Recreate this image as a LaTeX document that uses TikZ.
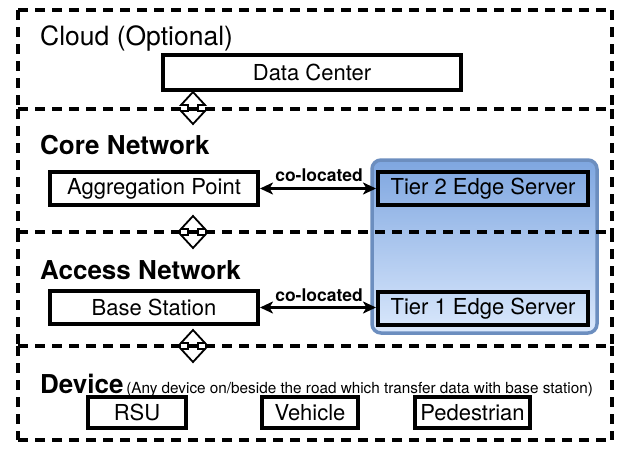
\documentclass[tikz,border=0pt]{standalone}
\usepackage{fontspec}
\setmainfont{TeX Gyre Heros}
\usetikzlibrary{arrows.meta}
\definecolor{tiertop}{HTML}{7EA6E0}
\definecolor{tierbottom}{HTML}{DAE8FC}
\definecolor{tierline}{HTML}{6C8EBF}
\newcommand\setfs[1]{\fontsize{#1}{#1}\selectfont}
\begin{document}
\begin{tikzpicture}[x=1pt,y=-1pt,
  layer/.style={draw=black, line width=3.6pt, dash pattern=on 10pt off 7pt},
  unit/.style={draw=black, line width=4pt, minimum height=33pt, inner sep=0pt, font=\setfs{22}},
  devbox/.style={unit, minimum height=31pt},
  heading/.style={anchor=base west, inner sep=0pt, font=\setfs{26}\bfseries},
  colabel/.style={font=\setfs{17.5}\bfseries, inner sep=0pt},
  link/.style={line width=3.5pt, {Stealth[length=13pt,width=12pt,inset=3.5pt]}-{Stealth[length=13pt,width=12pt,inset=3.5pt]}},
  linkmark/.pic={\draw[line width=1.8pt, line join=miter]
      (-12,-3) -- (0,-16) -- (12,-3) -- (5,-3) -- (5,3) -- (12,3)
      -- (0,16) -- (-12,3) -- (-5,3) -- (-5,-3) -- cycle;}
]
\useasboundingbox (0,0) rectangle (621,451);

% edge-server group behind the layers
\draw[tierline, line width=3.5pt, rounded corners=9pt, top color=tiertop, bottom color=tierbottom]
  (372,160) rectangle (597,333);

% dashed layers
\foreach \t/\b in {10/109, 109/232, 232/346, 346/440} {
  \draw[layer] (18,\t) -- (612,\t);
  \draw[layer] (18,\t) -- (18,\b);
  \draw[layer] (612,\t) -- (612,\b);
}
\draw[layer] (18,440) -- (612,440);

% layer titles
\node[heading, font=\setfs{26.5}] (cloudt) at (40,45) {Cloud (Optional)};
\node[heading] (coret) at (40,154) {Core Network};
\node[heading] (accesst) at (40,279) {Access Network};
\node[anchor=base west, inner sep=0pt] (devicet) at (40,393)
  {{\setfs{26}\bfseries Device} {\setfs{15.3}(Any device on/beside the road which transfer data with base station)}};

% units
\node[unit, minimum width=298pt, minimum height=35pt] (dc) at (312,72.5) {Data Center};
\node[unit, minimum width=208pt] (agg) at (154,188.5) {Aggregation Point};
\node[unit, minimum width=210pt] (t2) at (483,188.5) {Tier 2 Edge Server};
\node[unit, minimum width=208pt] (bs) at (154,307.5) {Base Station};
\node[unit, minimum width=210pt] (t1) at (483,308.5) {Tier 1 Edge Server};
\node[devbox, minimum width=98pt] (rsu) at (137,412.5) {RSU};
\node[devbox, minimum width=96pt] (veh) at (310,412.5) {Vehicle};
\node[devbox, minimum width=115pt] (ped) at (472.5,412.5) {Pedestrian};

% co-location links
\draw[link] (agg.east) -- (agg.east -| t2.west);
\node[colabel] (co2) at (319,175) {co-located};
\draw[link] (bs.east) -- (bs.east -| t1.west);
\node[colabel] (co1) at (319,295) {co-located};

% inter-layer link marks
\coordinate (m1) at (193,108);
\coordinate (m2) at (193,232);
\coordinate (m3) at (193,346);
\pic at (m1) {linkmark};
\pic at (m2) {linkmark};
\pic at (m3) {linkmark};
\end{tikzpicture}
\end{document}
